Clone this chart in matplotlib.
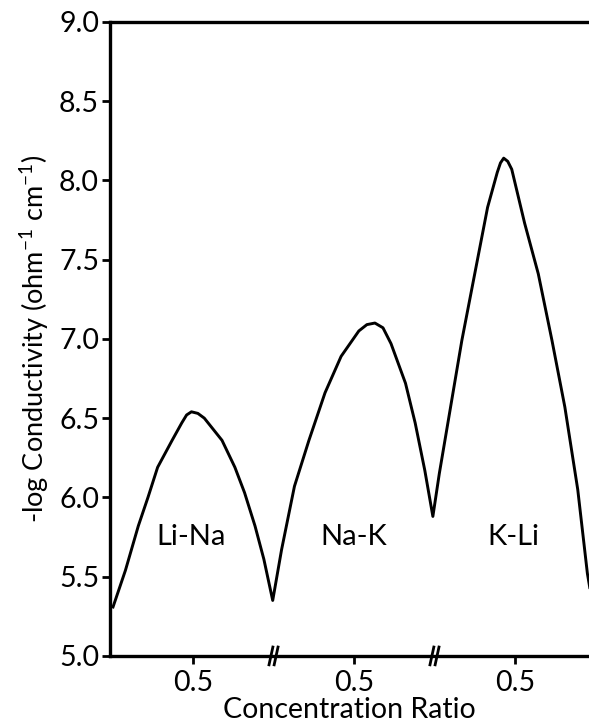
import matplotlib

matplotlib.use("Agg")
import matplotlib.pyplot as plt
import matplotlib.transforms as mtransforms

plt.rcParams.update(
    {
        "font.family": "Lato",
        "mathtext.fontset": "custom",
        "mathtext.rm": "Lato",
        "mathtext.it": "Lato",
        "font.size": 20.5,
    }
)

# composite x: each binary system spans one unit, breaks at 1 and 2
ratio_x = [0.0, 0.08, 0.16, 0.22, 0.28, 0.37, 0.43, 0.46, 0.49, 0.53, 0.57,
           0.68, 0.76, 0.82, 0.885, 0.94, 0.995,
           1.05, 1.13, 1.22, 1.32, 1.42, 1.53, 1.58, 1.63, 1.68, 1.73, 1.82,
           1.88, 1.94, 1.99,
           2.03, 2.10, 2.17, 2.25, 2.33, 2.39, 2.41, 2.43, 2.455, 2.48, 2.56,
           2.645, 2.73, 2.81, 2.89, 2.95, 2.97]
neg_log_cond = [5.30, 5.54, 5.82, 6.00, 6.19, 6.36, 6.47, 6.52, 6.54, 6.53, 6.50,
                6.36, 6.19, 6.03, 5.82, 5.61, 5.35,
                5.67, 6.07, 6.36, 6.66, 6.89, 7.05, 7.09, 7.10, 7.07, 6.97, 6.72,
                6.47, 6.17, 5.88,
                6.15, 6.57, 6.99, 7.41, 7.83, 8.05, 8.11, 8.14, 8.12, 8.07, 7.73,
                7.41, 6.99, 6.57, 6.05, 5.52, 5.40]
systems = ["Li-Na", "Na-K", "K-Li"]
system_mid = [0.49, 1.5, 2.49]
tick_pos = [0.5, 1.5, 2.5]
breaks = [1.0, 2.0]

fig = plt.figure(figsize=(5.89, 7.28), dpi=100)
ax = fig.add_axes([0.187, 0.099, 0.813, 0.871])

ax.plot(ratio_x, neg_log_cond, color="black", lw=2.1,
        solid_joinstyle="round", solid_capstyle="butt")

for name, xm in zip(systems, system_mid):
    ax.text(xm, 5.75, name, ha="center", va="center", fontsize=21)

ax.set_xlim(-0.015, 2.96)
ax.set_ylim(5.0, 9.0)
ax.set_yticks([5.0 + 0.5 * i for i in range(9)])
ax.set_yticklabels([f"{5.0 + 0.5 * i:.1f}" for i in range(9)])
ax.set_xticks(tick_pos)
ax.set_xticklabels(["0.5"] * len(tick_pos))
ax.tick_params(direction="out", width=2, length=6, pad=2)
ax.tick_params(axis="x", pad=4)

ax.spines["right"].set_visible(False)
for s in ("left", "bottom", "top"):
    ax.spines[s].set_linewidth(2.4)

ax.set_ylabel(r"-log Conductivity (ohm$^{-1}$ cm$^{-1}$)", fontsize=19.5,
              labelpad=6)
ax.set_xlabel("Concentration Ratio", labelpad=1)

# axis break marks "//"
trans = mtransforms.blended_transform_factory(ax.transData, ax.transAxes)
for b in breaks:
    for off in (-0.016, 0.016):
        ax.plot([b + off - 0.012, b + off + 0.012], [-0.014, 0.014],
                transform=trans, color="black", lw=2.0, clip_on=False)

fig.savefig("out.png", dpi=100)
